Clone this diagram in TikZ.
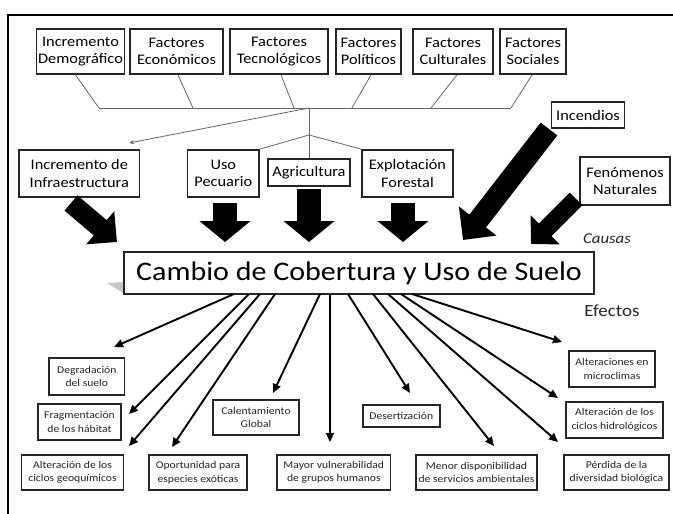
\documentclass[tikz,border=0pt]{standalone}
\usepackage{fontspec}
\setmainfont{Carlito}[FakeStretch=1.12]
\usetikzlibrary{arrows.meta}
\begin{document}
\begin{tikzpicture}[x=1pt,y=-1pt,
  box/.style={draw=black!85, line width=1.8pt, inner sep=0pt, align=center, fill=white, text=black},
  topbox/.style={box, minimum height=45, font=\fontsize{14.6}{17.5}\selectfont},
  effbox/.style={box, line width=1.7pt, minimum height=35, text=black!85, font=\fontsize{10.4}{13.5}\selectfont},
  tree/.style={draw=black!60, line width=0.8pt},
  vblock/.style={draw=black, line width=24pt, -{Triangle[length=21pt,width=50pt]}},
  dblock/.style={draw=black, line width=17pt, -{Triangle[length=20pt,width=36pt]}},
  effarrow/.style={draw=black, line width=1.9pt, -{Triangle[length=9pt,width=8pt]}}
]
\useasboundingbox (0,0) rectangle (673,514);

% frame
\draw[line width=2.6pt] (8,516) -- (8,15) -- (675,15);

% top factors
\node[topbox, minimum width=88] (idem) at (80.5,51.5) {Incremento\\Demográfico};
\node[topbox, minimum width=93] (eco) at (176.5,51.5) {Factores\\Económicos};
\node[topbox, minimum width=98] (tec) at (279,51.5) {Factores\\Tecnológicos};
\node[topbox, minimum width=65] (pol) at (368.5,51.5) {Factores\\Políticos};
\node[topbox, minimum width=80] (cul) at (453,51.5) {Factores\\Culturales};
\node[topbox, minimum width=66] (soc) at (533,51.5) {Factores\\Sociales};

% middle causes
\node[topbox, minimum width=120.5, minimum height=47] (infra) at (79.3,173.5) {Incremento de\\Infraestructura};
\node[topbox, minimum width=71.5, minimum height=47] (uso) at (223.3,173.5) {Uso\\Pecuario};
\node[topbox, minimum width=82, minimum height=27] (agr) at (309,172.5) {Agricultura};
\node[topbox, minimum width=91, minimum height=47] (fore) at (407.5,173.5) {Explotación\\Forestal};
\node[topbox, minimum width=90, minimum height=48] (fen) at (625,181) {Fenómenos\\Naturales};
\node[topbox, minimum width=73, minimum height=26] (ince) at (588,115) {Incendios};

% tree connectors
\coordinate (b1) at (99,108);
\coordinate (b2) at (193,108);
\coordinate (b3) at (294,108);
\coordinate (b4) at (352,108);
\coordinate (b5) at (431,108);
\coordinate (b6) at (511,108);
\coordinate (j1) at (309,108);
\coordinate (j2) at (309,135);
\coordinate (t0) at (129,143);
\draw[tree] (b1) -- (b6);
\draw[tree] ([xshift=-5pt]idem.south) -- (b1);
\draw[tree] ([xshift=1.5pt]eco.south) -- (b2);
\draw[tree] ([xshift=2pt]tec.south) -- (b3);
\draw[tree] ([xshift=2.5pt]pol.south) -- (b4);
\draw[tree] ([xshift=4pt]cul.south) -- (b5);
\draw[tree] ([xshift=-1pt]soc.south) -- (b6);
\draw[tree, -{Stealth[length=5pt,width=4pt]}] (j1) -- (t0);
\draw[tree] (j1) -- (agr.north);
\draw[tree] (j2) -- (uso.north east);
\draw[tree] (j2) -- (fore.north west);

% main box with shadow
\fill[gray!45] (107,283) -- (125,282) -- (125,294) -- cycle;
\node[box, line width=1.9pt, minimum width=470, minimum height=42, font=\fontsize{26.8}{30}\selectfont] (main) at (359,273) {Cambio de Cobertura y Uso de Suelo};

% block arrows (causes)
\coordinate (a1s) at (71,203); \coordinate (a1t) at (117,242);
\coordinate (a2s) at (225,203); \coordinate (a2t) at (225,242);
\coordinate (a3s) at (309,189); \coordinate (a3t) at (309,242);
\coordinate (a4s) at (403,203); \coordinate (a4t) at (403,242);
\coordinate (a5s) at (549,129); \coordinate (a5t) at (463,240);
\coordinate (a6s) at (576,199); \coordinate (a6t) at (531,244);
\draw[dblock, line width=20pt, -{Triangle[length=22pt,width=42pt]}] (a1s) -- (a1t);
\draw[vblock] (a2s) -- (a2t);
\draw[vblock] (a3s) -- (a3t);
\draw[vblock] (a4s) -- (a4t);
\draw[dblock, line width=21pt, -{Triangle[length=24pt,width=46pt]}] (a5s) -- (a5t);
\draw[dblock, line width=18pt, -{Triangle[length=20pt,width=40pt]}] (a6s) -- (a6t);

\node[font=\fontsize{15}{18}\selectfont\itshape, text=black!85] (causas) at (607,239) {Causas};
\node[font=\fontsize{17}{20}\selectfont, text=black!85] (efectos) at (612,311) {Efectos};

% effect boxes
\node[effbox, minimum width=75.5, minimum height=37] (deg) at (86.8,376.5) {Degradación\\del suelo};
\node[effbox, minimum width=83, minimum height=36] (fra) at (79.5,422) {Fragmentación\\de los hábitat};
\node[effbox, minimum width=102] (geo) at (72.5,472.5) {Alteración de los\\ciclos geoquímicos};
\node[effbox, minimum width=98] (opo) at (198,472.5) {Oportunidad para\\especies exóticas};
\node[effbox, minimum width=86] (cal) at (256,417.5) {Calentamiento\\Global};
\node[effbox, minimum width=113.5] (may) at (333.8,472.5) {Mayor vulnerabilidad\\de grupos humanos};
\node[effbox, minimum width=77, minimum height=22] (des) at (401.3,416) {Desertización};
\node[effbox, minimum width=121] (men) at (476.5,472.5) {Menor disponibilidad\\de servicios ambientales};
\node[effbox, minimum width=86, minimum height=36] (mic) at (612,369) {Alteraciones en\\microclimas};
\node[effbox, minimum width=97, minimum height=36] (hid) at (614.5,420) {Alteración de los\\ciclos hidrológicos};
\node[effbox, minimum width=105] (per) at (616.5,472.5) {Pérdida de la\\diversidad biológica};

% effect arrows
\coordinate (s1) at (234,294);  \coordinate (e1) at (114,347);
\coordinate (s2) at (249,294);  \coordinate (e2) at (129,414);
\coordinate (s3) at (260,294);  \coordinate (e3) at (129,446);
\coordinate (s4) at (275,294);  \coordinate (e4) at (172,447);
\coordinate (s5) at (320,294);  \coordinate (e5) at (273,393);
\coordinate (s6) at (330,294);  \coordinate (e6) at (330,442);
\coordinate (s7) at (348,294);  \coordinate (e7) at (410,393);
\coordinate (s8) at (373,294);  \coordinate (e8) at (494,446);
\coordinate (s9) at (388,294);  \coordinate (e9) at (558,442);
\coordinate (s10) at (401,294); \coordinate (e10) at (558,398);
\coordinate (s11) at (412,294); \coordinate (e11) at (562,342);
\foreach \i in {1,...,11} { \draw[effarrow] (s\i) -- (e\i); }
\end{tikzpicture}
\end{document}
